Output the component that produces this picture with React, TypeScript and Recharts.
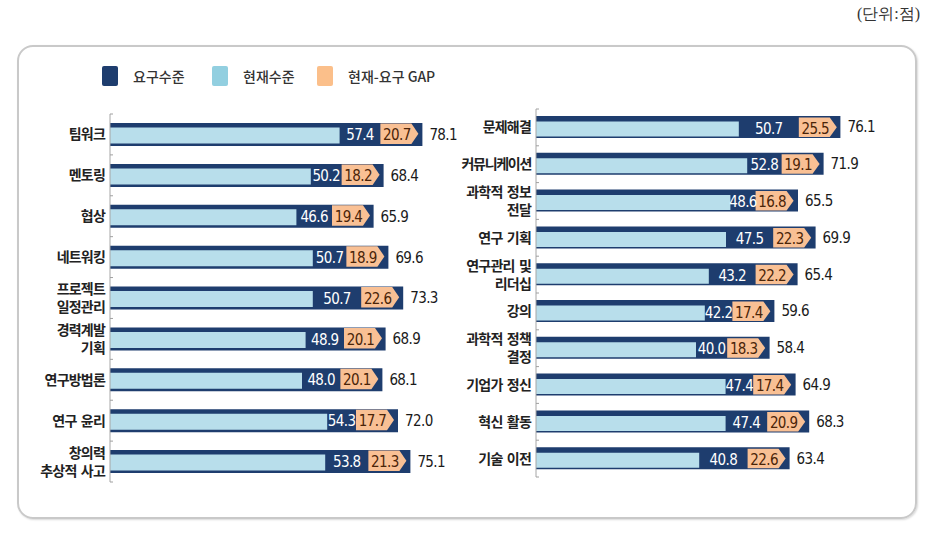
import { BarChart, Bar, XAxis, YAxis, LabelList, Rectangle } from "recharts";

const leftCategories = ["팀워크", "멘토링", "협상", "네트워킹", "프로젝트\n일정관리", "경력계발\n기획", "연구방법론", "연구 윤리", "창의력\n추상적 사고"];
const leftRequired = [78.1, 68.4, 65.9, 69.6, 73.3, 68.9, 68.1, 72.0, 75.1];
const leftCurrent = [57.4, 50.2, 46.6, 50.7, 50.7, 48.9, 48.0, 54.3, 53.8];
const leftGap = [20.7, 18.2, 19.4, 18.9, 22.6, 20.1, 20.1, 17.7, 21.3];

const rightCategories = ["문제해결", "커뮤니케이션", "과학적 정보\n전달", "연구 기획", "연구관리 및\n리더십", "강의", "과학적 정책\n결정", "기업가 정신", "혁신 활동", "기술 이전"];
const rightRequired = [76.1, 71.9, 65.5, 69.9, 65.4, 59.6, 58.4, 64.9, 68.3, 63.4];
const rightCurrent = [50.7, 52.8, 48.6, 47.5, 43.2, 42.2, 40.0, 47.4, 47.4, 40.8];
const rightGap = [25.5, 19.1, 16.8, 22.3, 22.2, 17.4, 18.3, 17.4, 20.9, 22.6];

const legendItems = [
  { label: "요구수준", color: "#1e3d6e" },
  { label: "현재수준", color: "#92cfe0" },
  { label: "현재-요구 GAP", color: "#fbbf8a" },
];

const NAVY = "#1e3d6e";
const LIGHT = "#b8deeb";
const ORANGE = "#f9c094";
const KR = "'Noto Sans CJK KR', 'Noto Sans', sans-serif";
const NUM = "'Liberation Sans Narrow', 'DejaVu Sans Condensed', 'Roboto', sans-serif";

interface PanelProps {
  left: number;
  axisWidth: number;
  top: number;
  bottom: number;
  reqSize: number;
  curSize: number;
  categories: string[];
  required: number[];
  current: number[];
  gap: number[];
}

function Panel({ left, axisWidth, top, bottom, reqSize, curSize, categories, required, current, gap }: PanelProps) {
  const data = categories.map((name, i) => ({
    name,
    required: required[i],
    current: current[i],
    gap: gap[i],
  }));
  const band = (bottom - top) / categories.length;

  const CategoryTick = (props: any) => {
    const { x, y, payload, index } = props;
    const lines = String(payload.value).split("\n");
    const axisX = x + 4;
    const lh = 18;
    const start = y - ((lines.length - 1) * lh) / 2;
    // 커뮤니케이션 is squeezed in the source
    const squeeze = lines[0].length >= 6 && !lines[0].includes(" ");
    return (
      <g>
        <line x1={axisX} x2={axisX + 3} y1={y - band / 2} y2={y - band / 2} stroke="#a0a0a0" />
        {index === categories.length - 1 && (
          <line x1={axisX} x2={axisX + 3} y1={y + band / 2} y2={y + band / 2} stroke="#a0a0a0" />
        )}
        <text
          x={x - 1}
          y={start}
          textAnchor="end"
          fontFamily={KR}
          fontSize={14}
          fontWeight={700}
          fill="#222"
          letterSpacing={squeeze ? -1.3 : -0.8}
          wordSpacing={2}
        >
          {lines.map((l, i) => (
            <tspan key={i} x={x - 1} dy={i === 0 ? "0.36em" : lh}>
              {l}
            </tspan>
          ))}
        </text>
      </g>
    );
  };

  const RequiredLabel = (p: any) => (
    <text x={p.x + p.width + 7} y={p.y + p.height / 2} dy="0.36em" fontFamily={NUM} fontSize={15} letterSpacing={-0.6} fill="#1a1a1a">
      {Number(p.value).toFixed(1)}
    </text>
  );

  const GapLabel = (p: any) => {
    const { x, y, width, height, index, value } = p;
    const tip = x + width - 4;
    const ow = 38;
    const ox = tip - ow;
    const cy = y + height / 2;
    const t = cy - reqSize / 2 + 1;
    const b = cy + reqSize / 2 - 1.5;
    const mid = (t + b) / 2;
    return (
      <g>
        <path d={`M${ox},${t} L${tip - 7},${t} L${tip},${mid} L${tip - 7},${b} L${ox},${b} Z`} fill={ORANGE} />
        <text x={ox + (ow - 7) / 2 + 1} y={mid + 1} dy="0.36em" textAnchor="middle" fontFamily={NUM} fontSize={15} letterSpacing={-0.6} fill="#4a2408">
          {Number(value).toFixed(1)}
        </text>
        <text x={(x + ox) / 2} y={mid + 1} dy="0.36em" textAnchor="middle" fontFamily={NUM} fontSize={15} letterSpacing={-0.6} fill="#ffffff">
          {data[index].current.toFixed(1)}
        </text>
      </g>
    );
  };

  const ShiftedBar = (p: any) => <Rectangle x={p.x} y={p.y + 1.5} width={p.width} height={p.height} fill={LIGHT} />;

  const plotWidth = 320;
  const chartWidth = 470;
  return (
    <div style={{ position: "absolute", left, top: 0 }}>
      <BarChart
        width={chartWidth}
        height={537}
        data={data}
        layout="vertical"
        margin={{ top, right: chartWidth - axisWidth - plotWidth, bottom: 537 - bottom, left: 0 }}
      >
        <XAxis type="number" domain={[0, 80]} hide />
        <YAxis
          yAxisId="req"
          type="category"
          dataKey="name"
          width={axisWidth}
          interval={0}
          tickLine={false}
          tickSize={4}
          tickMargin={0}
          axisLine={{ stroke: "#a6a6a6" }}
          tick={<CategoryTick />}
        />
        <YAxis yAxisId="cur" type="category" dataKey="name" hide width={0} />
        <Bar yAxisId="req" dataKey="required" fill={NAVY} barSize={reqSize} isAnimationActive={false}>
          <LabelList dataKey="required" content={RequiredLabel} />
        </Bar>
        <Bar yAxisId="cur" dataKey="current" stackId="s" fill={LIGHT} barSize={curSize} shape={ShiftedBar} isAnimationActive={false} />
        <Bar yAxisId="cur" dataKey="gap" stackId="s" fill="transparent" barSize={curSize} isAnimationActive={false}>
          <LabelList dataKey="gap" content={GapLabel} />
        </Bar>
      </BarChart>
    </div>
  );
}

export default function App() {
  return (
    <div style={{ position: "absolute", left: 0, top: 0, width: 937, height: 537, background: "#fff", overflow: "hidden" }}>
      <div style={{ position: "absolute", right: 17, top: 4, fontFamily: "serif", fontSize: 16, color: "#333" }}>(단위:점)</div>
      <div
        style={{
          position: "absolute",
          left: 17,
          top: 45,
          width: 896,
          height: 470,
          border: "2.5px solid #c9c9c9",
          borderRadius: 16,
          boxShadow: "1px 1px 2px rgba(0,0,0,0.15)",
        }}
      />
      {legendItems.map((it, i) => (
        <div key={it.label} style={{ position: "absolute", left: [102, 212, 317][i], top: 66, display: "flex", alignItems: "center" }}>
          <div style={{ width: 16, height: 20, background: it.color, borderRadius: 2 }} />
          <span style={{ marginLeft: 15, fontFamily: KR, fontSize: 14, fontWeight: 500, color: "#333" }}>{it.label}</span>
        </div>
      ))}
      <Panel
        left={0}
        axisWidth={110}
        top={114}
        bottom={482}
        reqSize={23}
        curSize={16}
        categories={leftCategories}
        required={leftRequired}
        current={leftCurrent}
        gap={leftGap}
      />
      <Panel
        left={430}
        axisWidth={106}
        top={109}
        bottom={477}
        reqSize={22}
        curSize={15}
        categories={rightCategories}
        required={rightRequired}
        current={rightCurrent}
        gap={rightGap}
      />
    </div>
  );
}
